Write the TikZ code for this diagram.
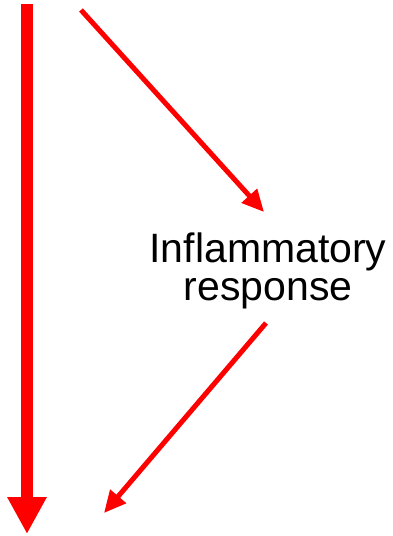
\documentclass[tikz,border=0pt]{standalone}
\usepackage{fontspec}
\setmainfont{Liberation Sans}
\usetikzlibrary{arrows.meta}
\definecolor{arrred}{RGB}{255,0,0}
\begin{document}
\begin{tikzpicture}[x=1pt,y=-1pt,
  bigarrow/.style={draw=arrred,line width=12pt,-{Triangle[length=37pt,width=37pt]}},
  thinarrow/.style={draw=arrred,line width=5pt,-{Triangle[length=22pt,width=20pt]}},
  label/.style={font=\fontsize{41}{38}\selectfont,align=center,inner sep=0pt}]
\useasboundingbox (0,0) rectangle (393,536);
\coordinate (vtop) at (27,4);
\coordinate (vbot) at (27,534);
\coordinate (d1s) at (81,10);
\coordinate (d1e) at (264,212);
\coordinate (d2s) at (266,323);
\coordinate (d2e) at (104,513);
\node[label] (infl) at (268,271) {Inflammatory\\response};
\draw[bigarrow] (vtop) -- (vbot);
\draw[thinarrow] (d1s) -- (d1e);
\draw[thinarrow] (d2s) -- (d2e);
\end{tikzpicture}
\end{document}
